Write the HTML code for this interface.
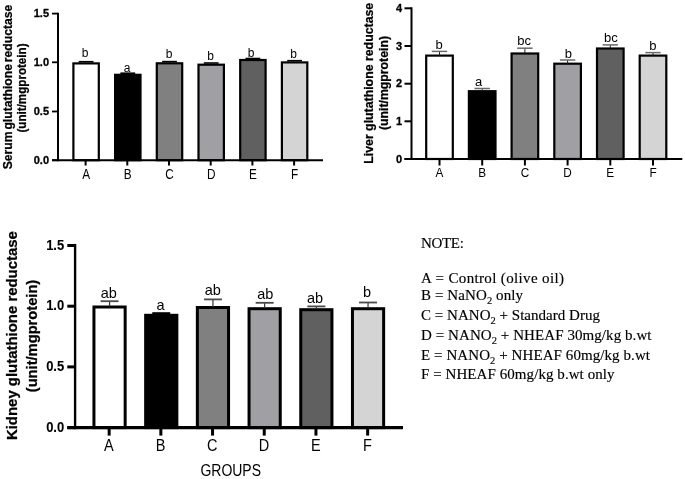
<!DOCTYPE html>
<html><head><meta charset="utf-8"><style>
html,body{margin:0;padding:0;background:#fff;}
body{width:685px;height:479px;overflow:hidden;}
svg{display:block;font-family:"Liberation Sans",sans-serif;filter:blur(0.35px);}
</style></head><body>
<svg width="685" height="479" viewBox="0 0 685 479">
<rect width="685" height="479" fill="#fff"/>
<rect x="73.4" y="63.4" width="25.4" height="96.8" fill="#ffffff" stroke="#000" stroke-width="2.2"/>
<line x1="78.7" y1="61.7" x2="93.5" y2="61.7" stroke="#000" stroke-width="1.6"/>
<text x="85.1" y="57.0" font-size="12" text-anchor="middle" font-weight="normal" >b</text>
<line x1="85.6" y1="160.2" x2="85.6" y2="165.5" stroke="#000" stroke-width="2"/>
<text transform="translate(86.1,178.6) scale(1.0,1.17)" font-size="11.8" text-anchor="middle" font-weight="normal" >A</text>
<rect x="115.1" y="74.8" width="25.4" height="85.4" fill="#000000" stroke="#000" stroke-width="2.2"/>
<line x1="120.4" y1="73.2" x2="135.2" y2="73.2" stroke="#000" stroke-width="1.6"/>
<text x="127.1" y="71.6" font-size="12" text-anchor="middle" font-weight="normal" >a</text>
<line x1="127.3" y1="160.2" x2="127.3" y2="165.5" stroke="#000" stroke-width="2"/>
<text transform="translate(127.8,178.6) scale(1.0,1.17)" font-size="11.8" text-anchor="middle" font-weight="normal" >B</text>
<rect x="156.8" y="63.3" width="25.4" height="96.9" fill="#808080" stroke="#000" stroke-width="2.2"/>
<line x1="162.1" y1="61.6" x2="176.9" y2="61.6" stroke="#000" stroke-width="1.6"/>
<text x="169.1" y="58.0" font-size="12" text-anchor="middle" font-weight="normal" >b</text>
<line x1="169.0" y1="160.2" x2="169.0" y2="165.5" stroke="#000" stroke-width="2"/>
<text transform="translate(169.5,178.6) scale(1.0,1.17)" font-size="11.8" text-anchor="middle" font-weight="normal" >C</text>
<rect x="198.5" y="64.7" width="25.4" height="95.5" fill="#a09fa4" stroke="#000" stroke-width="2.2"/>
<line x1="203.8" y1="63.0" x2="218.6" y2="63.0" stroke="#000" stroke-width="1.6"/>
<text x="210.5" y="59.8" font-size="12" text-anchor="middle" font-weight="normal" >b</text>
<line x1="210.7" y1="160.2" x2="210.7" y2="165.5" stroke="#000" stroke-width="2"/>
<text transform="translate(211.2,178.6) scale(1.0,1.17)" font-size="11.8" text-anchor="middle" font-weight="normal" >D</text>
<rect x="240.2" y="60.0" width="25.4" height="100.2" fill="#606060" stroke="#000" stroke-width="2.2"/>
<line x1="245.5" y1="58.5" x2="260.3" y2="58.5" stroke="#000" stroke-width="1.6"/>
<text x="251.2" y="57.0" font-size="12" text-anchor="middle" font-weight="normal" >b</text>
<line x1="252.4" y1="160.2" x2="252.4" y2="165.5" stroke="#000" stroke-width="2"/>
<text transform="translate(252.9,178.6) scale(1.0,1.17)" font-size="11.8" text-anchor="middle" font-weight="normal" >E</text>
<rect x="281.9" y="62.4" width="25.4" height="97.8" fill="#d4d4d4" stroke="#000" stroke-width="2.2"/>
<line x1="287.2" y1="60.7" x2="302.0" y2="60.7" stroke="#000" stroke-width="1.6"/>
<text x="293.7" y="58.0" font-size="12" text-anchor="middle" font-weight="normal" >b</text>
<line x1="294.1" y1="160.2" x2="294.1" y2="165.5" stroke="#000" stroke-width="2"/>
<text transform="translate(294.6,178.6) scale(1.0,1.17)" font-size="11.8" text-anchor="middle" font-weight="normal" >F</text>
<line x1="58" y1="12.7" x2="58" y2="161.2" stroke="#000" stroke-width="2"/>
<line x1="52" y1="160.2" x2="323" y2="160.2" stroke="#000" stroke-width="2"/>
<line x1="52" y1="13.6" x2="58" y2="13.6" stroke="#000" stroke-width="1.8"/>
<text x="49" y="17.0" font-size="11" text-anchor="end" font-weight="bold" stroke="#000" stroke-width="0.3">1.5</text>
<line x1="52" y1="62.3" x2="58" y2="62.3" stroke="#000" stroke-width="1.8"/>
<text x="49" y="65.7" font-size="11" text-anchor="end" font-weight="bold" stroke="#000" stroke-width="0.3">1.0</text>
<line x1="52" y1="111.5" x2="58" y2="111.5" stroke="#000" stroke-width="1.8"/>
<text x="49" y="114.9" font-size="11" text-anchor="end" font-weight="bold" stroke="#000" stroke-width="0.3">0.5</text>
<line x1="52" y1="160.2" x2="58" y2="160.2" stroke="#000" stroke-width="1.8"/>
<text x="49" y="163.6" font-size="11" text-anchor="end" font-weight="bold" stroke="#000" stroke-width="0.3">0.0</text>
<text transform="translate(11.5,87) rotate(-90)" font-size="12" font-weight="bold" text-anchor="middle" stroke="#000" stroke-width="0.25" word-spacing="-1.5" textLength="164.5" lengthAdjust="spacingAndGlyphs">Serum glutathione reductase</text>
<text transform="translate(26,88) rotate(-90)" font-size="12" font-weight="bold" text-anchor="middle" stroke="#000" stroke-width="0.25" textLength="89" lengthAdjust="spacingAndGlyphs">(unit/mgprotein)</text>
<rect x="426.2" y="55.6" width="26.6" height="103.4" fill="#ffffff" stroke="#000" stroke-width="2.2"/>
<line x1="439.5" y1="51.4" x2="439.5" y2="55.5" stroke="#222" stroke-width="1"/>
<line x1="431.8" y1="51.4" x2="447.2" y2="51.4" stroke="#6a6a6a" stroke-width="1.5"/>
<text x="439.1" y="49.2" font-size="13" text-anchor="middle" font-weight="normal" >b</text>
<line x1="439.5" y1="159" x2="439.5" y2="165.5" stroke="#000" stroke-width="2"/>
<text transform="translate(439.5,177.4) scale(1.0,1.14)" font-size="11.8" text-anchor="middle" font-weight="normal" >A</text>
<rect x="468.9" y="91.2" width="26.6" height="67.8" fill="#000000" stroke="#000" stroke-width="2.2"/>
<line x1="482.2" y1="88.5" x2="482.2" y2="91.1" stroke="#222" stroke-width="1"/>
<line x1="474.5" y1="88.5" x2="489.9" y2="88.5" stroke="#6a6a6a" stroke-width="1.5"/>
<text x="478.6" y="85.6" font-size="13" text-anchor="middle" font-weight="normal" >a</text>
<line x1="482.2" y1="159" x2="482.2" y2="165.5" stroke="#000" stroke-width="2"/>
<text transform="translate(482.2,177.4) scale(1.0,1.14)" font-size="11.8" text-anchor="middle" font-weight="normal" >B</text>
<rect x="511.6" y="53.5" width="26.6" height="105.5" fill="#808080" stroke="#000" stroke-width="2.2"/>
<line x1="524.9" y1="48.2" x2="524.9" y2="53.4" stroke="#222" stroke-width="1"/>
<line x1="517.2" y1="48.2" x2="532.6" y2="48.2" stroke="#6a6a6a" stroke-width="1.5"/>
<text x="524.1" y="45.4" font-size="13" text-anchor="middle" font-weight="normal" >bc</text>
<line x1="524.9" y1="159" x2="524.9" y2="165.5" stroke="#000" stroke-width="2"/>
<text transform="translate(524.9,177.4) scale(1.0,1.14)" font-size="11.8" text-anchor="middle" font-weight="normal" >C</text>
<rect x="554.3" y="63.7" width="26.6" height="95.3" fill="#a09fa4" stroke="#000" stroke-width="2.2"/>
<line x1="567.6" y1="60" x2="567.6" y2="63.6" stroke="#222" stroke-width="1"/>
<line x1="559.9" y1="60" x2="575.3" y2="60" stroke="#6a6a6a" stroke-width="1.5"/>
<text x="568.4" y="57.7" font-size="13" text-anchor="middle" font-weight="normal" >b</text>
<line x1="567.6" y1="159" x2="567.6" y2="165.5" stroke="#000" stroke-width="2"/>
<text transform="translate(567.6,177.4) scale(1.0,1.14)" font-size="11.8" text-anchor="middle" font-weight="normal" >D</text>
<rect x="597.0" y="48.5" width="26.6" height="110.5" fill="#606060" stroke="#000" stroke-width="2.2"/>
<line x1="610.3" y1="44.9" x2="610.3" y2="48.4" stroke="#222" stroke-width="1"/>
<line x1="602.6" y1="44.9" x2="618.0" y2="44.9" stroke="#6a6a6a" stroke-width="1.5"/>
<text x="610.9" y="42.2" font-size="13" text-anchor="middle" font-weight="normal" >bc</text>
<line x1="610.3" y1="159" x2="610.3" y2="165.5" stroke="#000" stroke-width="2"/>
<text transform="translate(610.3,177.4) scale(1.0,1.14)" font-size="11.8" text-anchor="middle" font-weight="normal" >E</text>
<rect x="639.7" y="55.6" width="26.6" height="103.4" fill="#d4d4d4" stroke="#000" stroke-width="2.2"/>
<line x1="653.0" y1="52.6" x2="653.0" y2="55.5" stroke="#222" stroke-width="1"/>
<line x1="645.3" y1="52.6" x2="660.7" y2="52.6" stroke="#6a6a6a" stroke-width="1.5"/>
<text x="652.8" y="49.5" font-size="13" text-anchor="middle" font-weight="normal" >b</text>
<line x1="653.0" y1="159" x2="653.0" y2="165.5" stroke="#000" stroke-width="2"/>
<text transform="translate(653.0,177.4) scale(1.0,1.14)" font-size="11.8" text-anchor="middle" font-weight="normal" >F</text>
<line x1="411.5" y1="7.300000000000001" x2="411.5" y2="160.0" stroke="#000" stroke-width="2"/>
<line x1="404.5" y1="159" x2="682.3" y2="159" stroke="#000" stroke-width="2"/>
<line x1="404.5" y1="8.3" x2="411.5" y2="8.3" stroke="#000" stroke-width="2"/>
<text transform="translate(402,11.9) scale(1,1.05)" font-size="11" text-anchor="end" font-weight="bold" stroke="#000" stroke-width="0.3">4</text>
<line x1="404.5" y1="46.0" x2="411.5" y2="46.0" stroke="#000" stroke-width="2"/>
<text transform="translate(402,49.6) scale(1,1.05)" font-size="11" text-anchor="end" font-weight="bold" stroke="#000" stroke-width="0.3">3</text>
<line x1="404.5" y1="83.7" x2="411.5" y2="83.7" stroke="#000" stroke-width="2"/>
<text transform="translate(402,87.3) scale(1,1.05)" font-size="11" text-anchor="end" font-weight="bold" stroke="#000" stroke-width="0.3">2</text>
<line x1="404.5" y1="121.3" x2="411.5" y2="121.3" stroke="#000" stroke-width="2"/>
<text transform="translate(402,124.9) scale(1,1.05)" font-size="11" text-anchor="end" font-weight="bold" stroke="#000" stroke-width="0.3">1</text>
<line x1="404.5" y1="159" x2="411.5" y2="159" stroke="#000" stroke-width="2"/>
<text transform="translate(402,162.6) scale(1,1.05)" font-size="11" text-anchor="end" font-weight="bold" stroke="#000" stroke-width="0.3">0</text>
<text transform="translate(372.5,83.3) rotate(-90)" font-size="12.3" font-weight="bold" text-anchor="middle" stroke="#000" stroke-width="0.25" textLength="161" lengthAdjust="spacingAndGlyphs">Liver glutathione reductase</text>
<text transform="translate(388,83) rotate(-90)" font-size="12.3" font-weight="bold" text-anchor="middle" stroke="#000" stroke-width="0.25" textLength="94" lengthAdjust="spacingAndGlyphs">(unit/mgprotein)</text>
<rect x="93.95" y="307.0" width="31.2" height="120.6" fill="#ffffff" stroke="#000" stroke-width="3"/>
<line x1="109.55" y1="301.2" x2="109.55" y2="306.5" stroke="#333" stroke-width="1.2"/>
<line x1="100.55" y1="301.2" x2="118.55" y2="301.2" stroke="#4a4a4a" stroke-width="1.8"/>
<text x="108.85" y="297.8" font-size="14.5" text-anchor="middle" font-weight="normal" >ab</text>
<line x1="109.15" y1="427.6" x2="109.15" y2="435.6" stroke="#000" stroke-width="3"/>
<text transform="translate(108.95,450.6) scale(1,1.1)" font-size="14.5" text-anchor="middle" font-weight="normal" >A</text>
<rect x="145.65" y="315.3" width="31.2" height="112.3" fill="#000000" stroke="#000" stroke-width="3"/>
<line x1="152.25" y1="313.1" x2="170.25" y2="313.1" stroke="#000" stroke-width="1.8"/>
<text x="160.65" y="310.0" font-size="14.5" text-anchor="middle" font-weight="normal" >a</text>
<line x1="160.85" y1="427.6" x2="160.85" y2="435.6" stroke="#000" stroke-width="3"/>
<text transform="translate(160.65,450.6) scale(1,1.1)" font-size="14.5" text-anchor="middle" font-weight="normal" >B</text>
<rect x="197.35" y="307.5" width="31.2" height="120.1" fill="#808080" stroke="#000" stroke-width="3"/>
<line x1="212.95" y1="299.4" x2="212.95" y2="307" stroke="#333" stroke-width="1.2"/>
<line x1="203.95" y1="299.4" x2="221.95" y2="299.4" stroke="#4a4a4a" stroke-width="1.8"/>
<text x="212.75" y="294.9" font-size="14.5" text-anchor="middle" font-weight="normal" >ab</text>
<line x1="212.55" y1="427.6" x2="212.55" y2="435.6" stroke="#000" stroke-width="3"/>
<text transform="translate(212.35,450.6) scale(1,1.1)" font-size="14.5" text-anchor="middle" font-weight="normal" >C</text>
<rect x="249.05" y="308.7" width="31.2" height="118.9" fill="#a09fa4" stroke="#000" stroke-width="3"/>
<line x1="264.65" y1="302.8" x2="264.65" y2="308.2" stroke="#333" stroke-width="1.2"/>
<line x1="255.65" y1="302.8" x2="273.65" y2="302.8" stroke="#4a4a4a" stroke-width="1.8"/>
<text x="265.25" y="298.7" font-size="14.5" text-anchor="middle" font-weight="normal" >ab</text>
<line x1="264.25" y1="427.6" x2="264.25" y2="435.6" stroke="#000" stroke-width="3"/>
<text transform="translate(264.05,450.6) scale(1,1.1)" font-size="14.5" text-anchor="middle" font-weight="normal" >D</text>
<rect x="300.75" y="309.7" width="31.2" height="117.9" fill="#606060" stroke="#000" stroke-width="3"/>
<line x1="316.35" y1="306.4" x2="316.35" y2="309.2" stroke="#333" stroke-width="1.2"/>
<line x1="307.35" y1="306.4" x2="325.35" y2="306.4" stroke="#4a4a4a" stroke-width="1.8"/>
<text x="314.95" y="302.6" font-size="14.5" text-anchor="middle" font-weight="normal" >ab</text>
<line x1="315.95" y1="427.6" x2="315.95" y2="435.6" stroke="#000" stroke-width="3"/>
<text transform="translate(315.75,450.6) scale(1,1.1)" font-size="14.5" text-anchor="middle" font-weight="normal" >E</text>
<rect x="352.45" y="308.7" width="31.2" height="118.9" fill="#d4d4d4" stroke="#000" stroke-width="3"/>
<line x1="368.05" y1="302.5" x2="368.05" y2="308.2" stroke="#333" stroke-width="1.2"/>
<line x1="359.05" y1="302.5" x2="377.05" y2="302.5" stroke="#4a4a4a" stroke-width="1.8"/>
<text x="367.05" y="297" font-size="14.5" text-anchor="middle" font-weight="normal" >b</text>
<line x1="367.65" y1="427.6" x2="367.65" y2="435.6" stroke="#000" stroke-width="3"/>
<text transform="translate(367.45,450.6) scale(1,1.1)" font-size="14.5" text-anchor="middle" font-weight="normal" >F</text>
<line x1="75.1" y1="243.9" x2="75.1" y2="429.20000000000005" stroke="#000" stroke-width="2.4"/>
<line x1="67.3" y1="427.6" x2="403" y2="427.6" stroke="#000" stroke-width="3.2"/>
<line x1="67.3" y1="245.5" x2="75.1" y2="245.5" stroke="#000" stroke-width="3"/>
<text transform="translate(64.2,249.6) scale(1,1.15)" font-size="13" text-anchor="end" font-weight="bold" stroke="#000" stroke-width="0.1">1.5</text>
<line x1="67.3" y1="306.2" x2="75.1" y2="306.2" stroke="#000" stroke-width="3"/>
<text transform="translate(64.2,310.3) scale(1,1.15)" font-size="13" text-anchor="end" font-weight="bold" stroke="#000" stroke-width="0.1">1.0</text>
<line x1="67.3" y1="366.9" x2="75.1" y2="366.9" stroke="#000" stroke-width="3"/>
<text transform="translate(64.2,371.0) scale(1,1.15)" font-size="13" text-anchor="end" font-weight="bold" stroke="#000" stroke-width="0.1">0.5</text>
<line x1="67.3" y1="427.6" x2="75.1" y2="427.6" stroke="#000" stroke-width="3"/>
<text transform="translate(64.2,431.7) scale(1,1.15)" font-size="13" text-anchor="end" font-weight="bold" stroke="#000" stroke-width="0.1">0.0</text>
<text transform="translate(17,335.6) rotate(-90)" font-size="14.8" font-weight="bold" text-anchor="middle" stroke="#000" stroke-width="0.25" textLength="209" lengthAdjust="spacingAndGlyphs">Kidney glutathione reductase</text>
<text transform="translate(37,336) rotate(-90)" font-size="14.8" font-weight="bold" text-anchor="middle" stroke="#000" stroke-width="0.25" textLength="112.5" lengthAdjust="spacingAndGlyphs">(unit/mgprotein)</text>
<text transform="translate(230.7,476.3) scale(1,1.13)" font-size="14" text-anchor="middle" font-weight="normal" >GROUPS</text>
<text x="421" y="248.4" font-size="15" font-family="&quot;Liberation Serif&quot;, serif" stroke="#000" stroke-width="0.15" textLength="42.8" lengthAdjust="spacing">NOTE:</text>
<text x="421" y="282.9" font-size="15" font-family="&quot;Liberation Serif&quot;, serif" stroke="#000" stroke-width="0.15" textLength="143" lengthAdjust="spacing">A = Control (olive oil)</text>
<text x="421" y="300.0" font-size="15" font-family="&quot;Liberation Serif&quot;, serif" stroke="#000" stroke-width="0.15" textLength="102" lengthAdjust="spacing">B = NaNO<tspan font-size="10.5" dy="4.2">2</tspan><tspan dy="-4.2"> only</tspan></text>
<text x="421" y="319.6" font-size="15" font-family="&quot;Liberation Serif&quot;, serif" stroke="#000" stroke-width="0.15" textLength="179" lengthAdjust="spacing">C = NANO<tspan font-size="10.5" dy="4.2">2</tspan><tspan dy="-4.2"> + Standard Drug</tspan></text>
<text x="421" y="339.6" font-size="15" font-family="&quot;Liberation Serif&quot;, serif" stroke="#000" stroke-width="0.15" textLength="230.5" lengthAdjust="spacing">D = NANO<tspan font-size="10.5" dy="4.2">2</tspan><tspan dy="-4.2"> + NHEAF 30mg/kg b.wt</tspan></text>
<text x="421" y="360.0" font-size="15" font-family="&quot;Liberation Serif&quot;, serif" stroke="#000" stroke-width="0.15" textLength="229" lengthAdjust="spacing">E = NANO<tspan font-size="10.5" dy="4.2">2</tspan><tspan dy="-4.2"> + NHEAF 60mg/kg b.wt</tspan></text>
<text x="421" y="378.7" font-size="15" font-family="&quot;Liberation Serif&quot;, serif" stroke="#000" stroke-width="0.15" textLength="193.5" lengthAdjust="spacing">F = NHEAF 60mg/kg b.wt only</text>
</svg>
</body></html>
